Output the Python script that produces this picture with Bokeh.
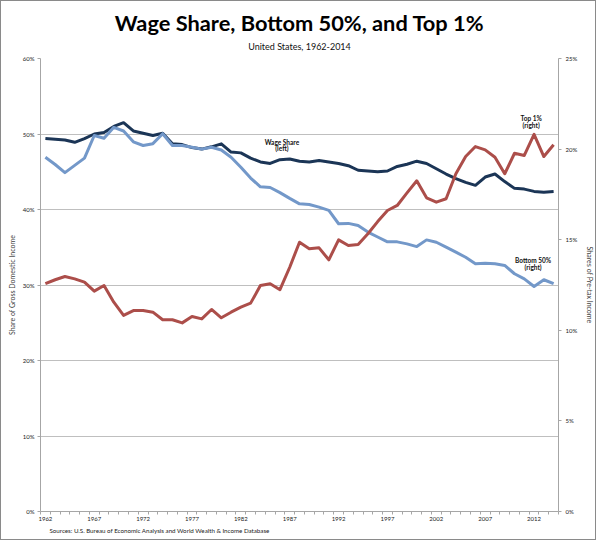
from bokeh.plotting import figure
from bokeh.models import Range1d, LinearAxis, FixedTicker, Label, Title, ColumnDataSource
from bokeh.embed import file_html
from bokeh.resources import INLINE

years = list(range(1962, 2015))

wage_share_left = [49.4, 49.3, 49.2, 48.9, 49.4, 50.0, 50.2, 51.0, 51.5, 50.4,
                   50.1, 49.8, 50.1, 48.7, 48.6, 48.2, 48.0, 48.3, 48.7, 47.6,
                   47.5, 46.8, 46.3, 46.1, 46.6, 46.7, 46.4, 46.3, 46.5, 46.3,
                   46.1, 45.8, 45.2, 45.1, 45.0, 45.1, 45.7, 46.0, 46.4, 46.1,
                   45.4, 44.7, 44.1, 43.6, 43.2, 44.3, 44.7, 43.7, 42.8, 42.7,
                   42.4, 42.3, 42.4]

bottom50_right = [19.55, 19.15, 18.7, 19.1, 19.5, 20.75, 20.6, 21.2, 21.0, 20.4,
                  20.2, 20.3, 20.85, 20.2, 20.2, 20.1, 20.0, 20.1, 19.95, 19.55,
                  19.0, 18.4, 17.92, 17.88, 17.6, 17.28, 16.98, 16.94, 16.8, 16.62,
                  15.88, 15.9, 15.78, 15.42, 15.15, 14.88, 14.88, 14.77, 14.62, 14.99,
                  14.86, 14.59, 14.31, 14.03, 13.67, 13.7, 13.67, 13.58, 13.12, 12.84,
                  12.42, 12.79, 12.57]

top1_right = [12.57, 12.79, 12.97, 12.84, 12.66, 12.16, 12.47, 11.55, 10.82, 11.09,
              11.09, 11.0, 10.58, 10.58, 10.41, 10.76, 10.63, 11.15, 10.69, 11.0,
              11.28, 11.5, 12.47, 12.57, 12.24, 13.48, 14.86, 14.5, 14.55, 13.89,
              14.99, 14.68, 14.73, 15.33, 16.0, 16.61, 16.89, 17.58, 18.25, 17.31,
              17.07, 17.26, 18.64, 19.59, 20.14, 19.96, 19.55, 18.64, 19.77, 19.65,
              20.81, 19.59, 20.24]

x_tick_years = [1962, 1967, 1972, 1977, 1982, 1987, 1992, 1997, 2002, 2007, 2012]
left_ticks = [0, 10, 20, 30, 40, 50, 60]
right_ticks = [0, 5, 10, 15, 20, 25]

title_text = "Wage Share, Bottom 50%, and Top 1%"
subtitle_text = "United States, 1962-2014"
source_text = "Sources: U.S. Bureau of Economic Analysis and World Wealth & Income Database"

FONT = "Lato"
AXIS_GRAY = "#a6a6a6"
GRID_GRAY = "#bfbfbf"

p = figure(width=596, height=540, output_backend="svg", toolbar_location=None,
           title=None,
           x_range=Range1d(years[0] - 0.5, years[-1] + 0.5),
           y_range=Range1d(0, 60),
           min_border_left=39, min_border_right=39, min_border_top=57, min_border_bottom=30)
p.extra_y_ranges = {"right": Range1d(0, 25)}
p.background_fill_color = "white"
p.border_fill_color = "white"
p.outline_line_color = None
p.styles = {"border": "1px solid #8a8a8a"}

# x axis
xa = p.xaxis[0]
minor = [y - 0.5 for y in years] + [years[-1] + 0.5]
xa.ticker = FixedTicker(ticks=x_tick_years, minor_ticks=minor)
xa.major_tick_out = 0
xa.major_tick_in = 0
xa.minor_tick_out = 3
xa.minor_tick_in = 0
xa.minor_tick_line_color = AXIS_GRAY
xa.axis_line_color = AXIS_GRAY
xa.major_label_standoff = 2
xa.major_label_text_font = FONT
xa.major_label_text_font_size = "6px"
xa.major_label_text_color = "#222222"

# left axis
ya = p.yaxis[0]
ya.ticker = FixedTicker(ticks=left_ticks)
ya.major_label_overrides = {t: f"{t}%" for t in left_ticks}
ya.major_tick_out = 3
ya.major_tick_in = 0
ya.minor_tick_out = 0
ya.minor_tick_in = 0
ya.major_tick_line_color = AXIS_GRAY
ya.axis_line_color = AXIS_GRAY
ya.major_label_standoff = 3
ya.major_label_text_font = FONT
ya.major_label_text_font_size = "6px"
ya.major_label_text_color = "#222222"
ya.axis_label = "Share of Gross Domestic Income"
ya.axis_label_text_font = FONT
ya.axis_label_text_font_style = "normal"
ya.axis_label_text_font_size = "7px"
ya.axis_label_standoff = 4

# right axis
ra = LinearAxis(y_range_name="right", ticker=FixedTicker(ticks=right_ticks))
ra.major_label_overrides = {t: f"{t}%" for t in right_ticks}
ra.major_tick_out = 3
ra.major_tick_in = 0
ra.minor_tick_out = 0
ra.minor_tick_in = 0
ra.major_tick_line_color = AXIS_GRAY
ra.axis_line_color = AXIS_GRAY
ra.major_label_standoff = 4
ra.major_label_text_font = FONT
ra.major_label_text_font_size = "6px"
ra.major_label_text_color = "#222222"
ra.axis_label = "Shares of Pre-tax Income"
ra.axis_label_text_font = FONT
ra.axis_label_text_font_style = "normal"
ra.axis_label_text_font_size = "7px"
ra.axis_label_standoff = 6
p.add_layout(ra, "right")

# grid
p.xgrid.visible = False
p.ygrid[0].ticker = FixedTicker(ticks=left_ticks)
p.ygrid[0].grid_line_color = GRID_GRAY
p.ygrid[0].grid_line_width = 1

src = ColumnDataSource(dict(year=years, wage=wage_share_left,
                            bottom=bottom50_right, top=top1_right))

p.line("year", "wage", source=src, line_color="#1b3556", line_width=3, line_join="round")
p.line("year", "bottom", source=src, y_range_name="right", line_color="#7398c9",
       line_width=3, line_join="round")
p.line("year", "top", source=src, y_range_name="right", line_color="#ac4e4a",
       line_width=3, line_join="round")

# series labels
lab_kw = dict(text_font=FONT, text_font_size="6.5px", text_font_style="bold",
              text_align="center", text_baseline="middle", text_color="#111111")
p.add_layout(Label(x=1986.2, y=48.9, text="Wage Share", **lab_kw))
p.add_layout(Label(x=1986.2, y=48.1, text="(left)", **lab_kw))
p.add_layout(Label(x=2011.7, y=21.69, y_range_name="right", text="Top 1%", **lab_kw))
p.add_layout(Label(x=2011.7, y=21.3, y_range_name="right", text="(right)", **lab_kw))
p.add_layout(Label(x=2011.9, y=13.85, y_range_name="right", text="Bottom 50%", **lab_kw))
p.add_layout(Label(x=2011.9, y=13.47, y_range_name="right", text="(right)", **lab_kw))

# source note
p.add_layout(Title(text=source_text,
                   align="left", offset=9, standoff=2, text_font=FONT, text_font_size="6.2px",
                   text_font_style="normal", text_color="#222222"), "below")

# titles
p.add_layout(Title(text=subtitle_text, align="center", vertical_align="top", text_font=FONT,
                   text_font_size="9px", text_font_style="normal", standoff=9,
                   text_color="#111111"), "above")
p.add_layout(Title(text=title_text, align="center", text_font=FONT,
                   text_font_size="21.8px", text_font_style="bold", standoff=2,
                   text_color="#000000"), "above")

open("out.html", "w").write(file_html(p, INLINE))
